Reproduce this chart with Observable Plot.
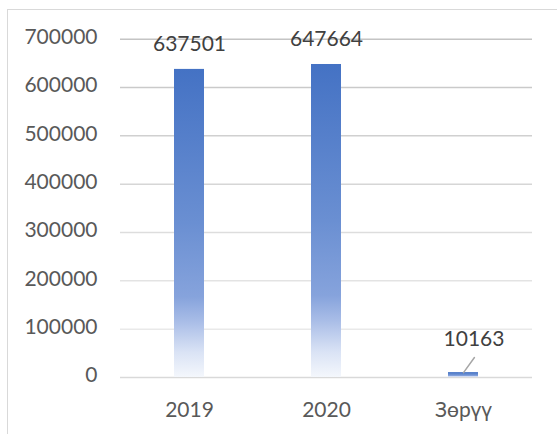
<!DOCTYPE html>
<html><head><meta charset="utf-8">
<script src="https://cdn.jsdelivr.net/npm/d3@7"></script>
<script src="https://cdn.jsdelivr.net/npm/@observablehq/plot@0.6"></script>
<style>
html,body{margin:0;padding:0;background:#fff;overflow:hidden;width:557px;height:434px;}
#frame{position:absolute;left:7px;top:9px;width:700px;height:700px;border:1.5px solid #d9d9d9;box-sizing:border-box;}
#chart{position:absolute;left:0;top:0;}
</style></head><body>
<div id="frame"></div><div id="chart"></div>
<script>
const categories = ["2019", "2020", "Зөрүү"];
const values = [637501, 647664, 10163];
const yTicks = [0, 100000, 200000, 300000, 400000, 500000, 600000, 700000];

const data = categories.map((c, i) => ({category: c, value: values[i]}));
const gridColor = d3.interpolateRgb("#efefef", "#c4c4c4");

const plot = Plot.plot({
  width: 557, height: 434,
  marginLeft: 120, marginRight: 25, marginTop: 38.7, marginBottom: 57,
  style: {fontFamily: "Lato, 'Open Sans', sans-serif", fontSize: "21px", background: "transparent", overflow: "visible"},
  x: {domain: categories, paddingInner: 0.78, paddingOuter: 0.39, label: null},
  y: {domain: [0, 700000], label: null},
  color: {type: "identity"},
  marks: [
    Plot.ruleY(yTicks, {stroke: d => d === 0 ? "#d9d9d9" : gridColor(d / 700000), strokeWidth: 1.5}),
    Plot.barY(data, {x: "category", y: "value", fill: "url(#barGrad)"}),
    Plot.axisY(yTicks, {tickSize: 0, tickPadding: 23, tickFormat: d => String(d), fill: "#595959", dy: -2, label: null}),
    Plot.axisX({tickSize: 0, tickPadding: 25, fill: "#595959", label: null}),
    Plot.text(data.slice(0, 2), {x: "category", y: "value", text: d => String(d.value), dy: -25, fill: "#404040"}),
    Plot.text(data.slice(2), {x: "category", y: "value", text: d => String(d.value), dx: 10.5, dy: -33, fill: "#404040"}),
    Plot.vector(data.slice(2), {x: "category", y: "value", length: 18.6, rotate: 36, anchor: "start", r: 0, stroke: "#a6a6a6", strokeWidth: 1.5})
  ]
});

const ns = "http://www.w3.org/2000/svg";
const defs = document.createElementNS(ns, "defs");
const grad = document.createElementNS(ns, "linearGradient");
grad.setAttribute("id", "barGrad");
grad.setAttribute("x1", "0"); grad.setAttribute("y1", "0");
grad.setAttribute("x2", "0"); grad.setAttribute("y2", "1");
[[0, "#4472c4"], [0.5, "#6a8fd2"], [0.74, "#86a3dc"], [0.82, "#a9bde7"], [0.92, "#dae3f5"], [1, "#f4f7fc"]].forEach(([o, c]) => {
  const s = document.createElementNS(ns, "stop");
  s.setAttribute("offset", o);
  s.setAttribute("stop-color", c);
  grad.appendChild(s);
});
defs.appendChild(grad);
plot.insertBefore(defs, plot.firstChild);
document.getElementById("chart").appendChild(plot);
</script>
</body></html>
